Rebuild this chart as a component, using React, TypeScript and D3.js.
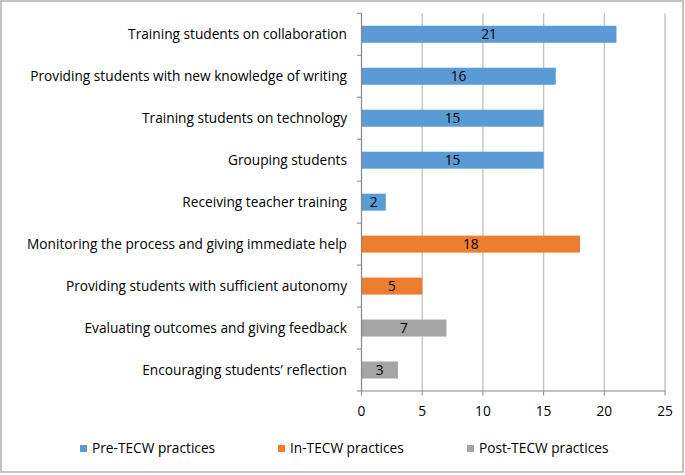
import React from "react";
import * as d3 from "d3";

const categories = [
  "Training students on collaboration",
  "Providing students with new knowledge of writing",
  "Training students on technology",
  "Grouping students",
  "Receiving teacher training",
  "Monitoring the process and giving immediate help",
  "Providing students with sufficient autonomy",
  "Evaluating outcomes and giving feedback",
  "Encouraging students\u2019 reflection",
];
const values = [21, 16, 15, 15, 2, 18, 5, 7, 3];
const groups = ["Pre", "Pre", "Pre", "Pre", "Pre", "In", "In", "Post", "Post"];
const seriesNames = ["Pre-TECW practices", "In-TECW practices", "Post-TECW practices"];
const seriesKeys = ["Pre", "In", "Post"];
const xTicks = [0, 5, 10, 15, 20, 25];

const colors: Record<string, string> = { Pre: "#5B9BD5", In: "#ED7D31", Post: "#A5A5A5" };

export default function App() {
  const W = 685, H = 475;
  const x = d3.scaleLinear().domain([0, 25]).range([361.5, 665]);
  const y = d3.scaleBand<string>().domain(categories).range([13.3, 391]).paddingInner(0.595).paddingOuter(0.2975);
  const step = y.step();
  const font = "'Open Sans', 'Noto Sans', sans-serif";
  const fs = 13.7;
  const legendX = [80, 278, 467];
  return (
    <svg width={W} height={H} style={{ position: "absolute", left: 0, top: 0, fontFamily: font }}>
      <rect x={1} y={1} width={682} height={471} fill="#fff" stroke="#b0b0b0" strokeWidth={1.5} />
      {xTicks.slice(1).map((t) => (
        <line key={t} x1={x(t)} x2={x(t)} y1={13.3} y2={391} stroke="#c0c0c0" strokeWidth={1.3} />
      ))}
      {categories.map((c, i) => (
        <g key={c}>
          <rect x={x(0)} y={y(c)!} width={x(values[i]) - x(0)} height={y.bandwidth()} fill={colors[groups[i]]} />
          <text x={(x(0) + x(values[i])) / 2} y={y(c)! + y.bandwidth() / 2} dy="0.36em" textAnchor="middle" fontSize={fs} fill="#000">
            {values[i]}
          </text>
          <text x={347} y={y(c)! + y.bandwidth() / 2} dy="0.36em" textAnchor="end" fontSize={fs} fill="#000">
            {c}
          </text>
        </g>
      ))}
      {d3.range(categories.length + 1).map((i) => (
        <line key={i} x1={357} x2={x(0)} y1={13.3 + i * step} y2={13.3 + i * step} stroke="#868686" />
      ))}
      <line x1={x(0)} x2={x(0)} y1={13.3} y2={391} stroke="#868686" strokeWidth={1.2} />
      <line x1={x(0)} x2={x(25)} y1={391} y2={391} stroke="#868686" strokeWidth={1.2} />
      {xTicks.map((t) => (
        <g key={t}>
          <line x1={x(t)} x2={x(t)} y1={391} y2={395.5} stroke="#868686" />
          <text x={x(t)} y={411.5} dy="0.36em" textAnchor="middle" fontSize={fs} fill="#000">{t}</text>
        </g>
      ))}
      {seriesKeys.map((k, i) => (
        <g key={k}>
          <rect x={legendX[i]} y={445} width={7} height={7} fill={colors[k]} />
          <text x={legendX[i] + 12} y={448.5} dy="0.36em" fontSize={fs} fill="#000">{seriesNames[i]}</text>
        </g>
      ))}
    </svg>
  );
}
